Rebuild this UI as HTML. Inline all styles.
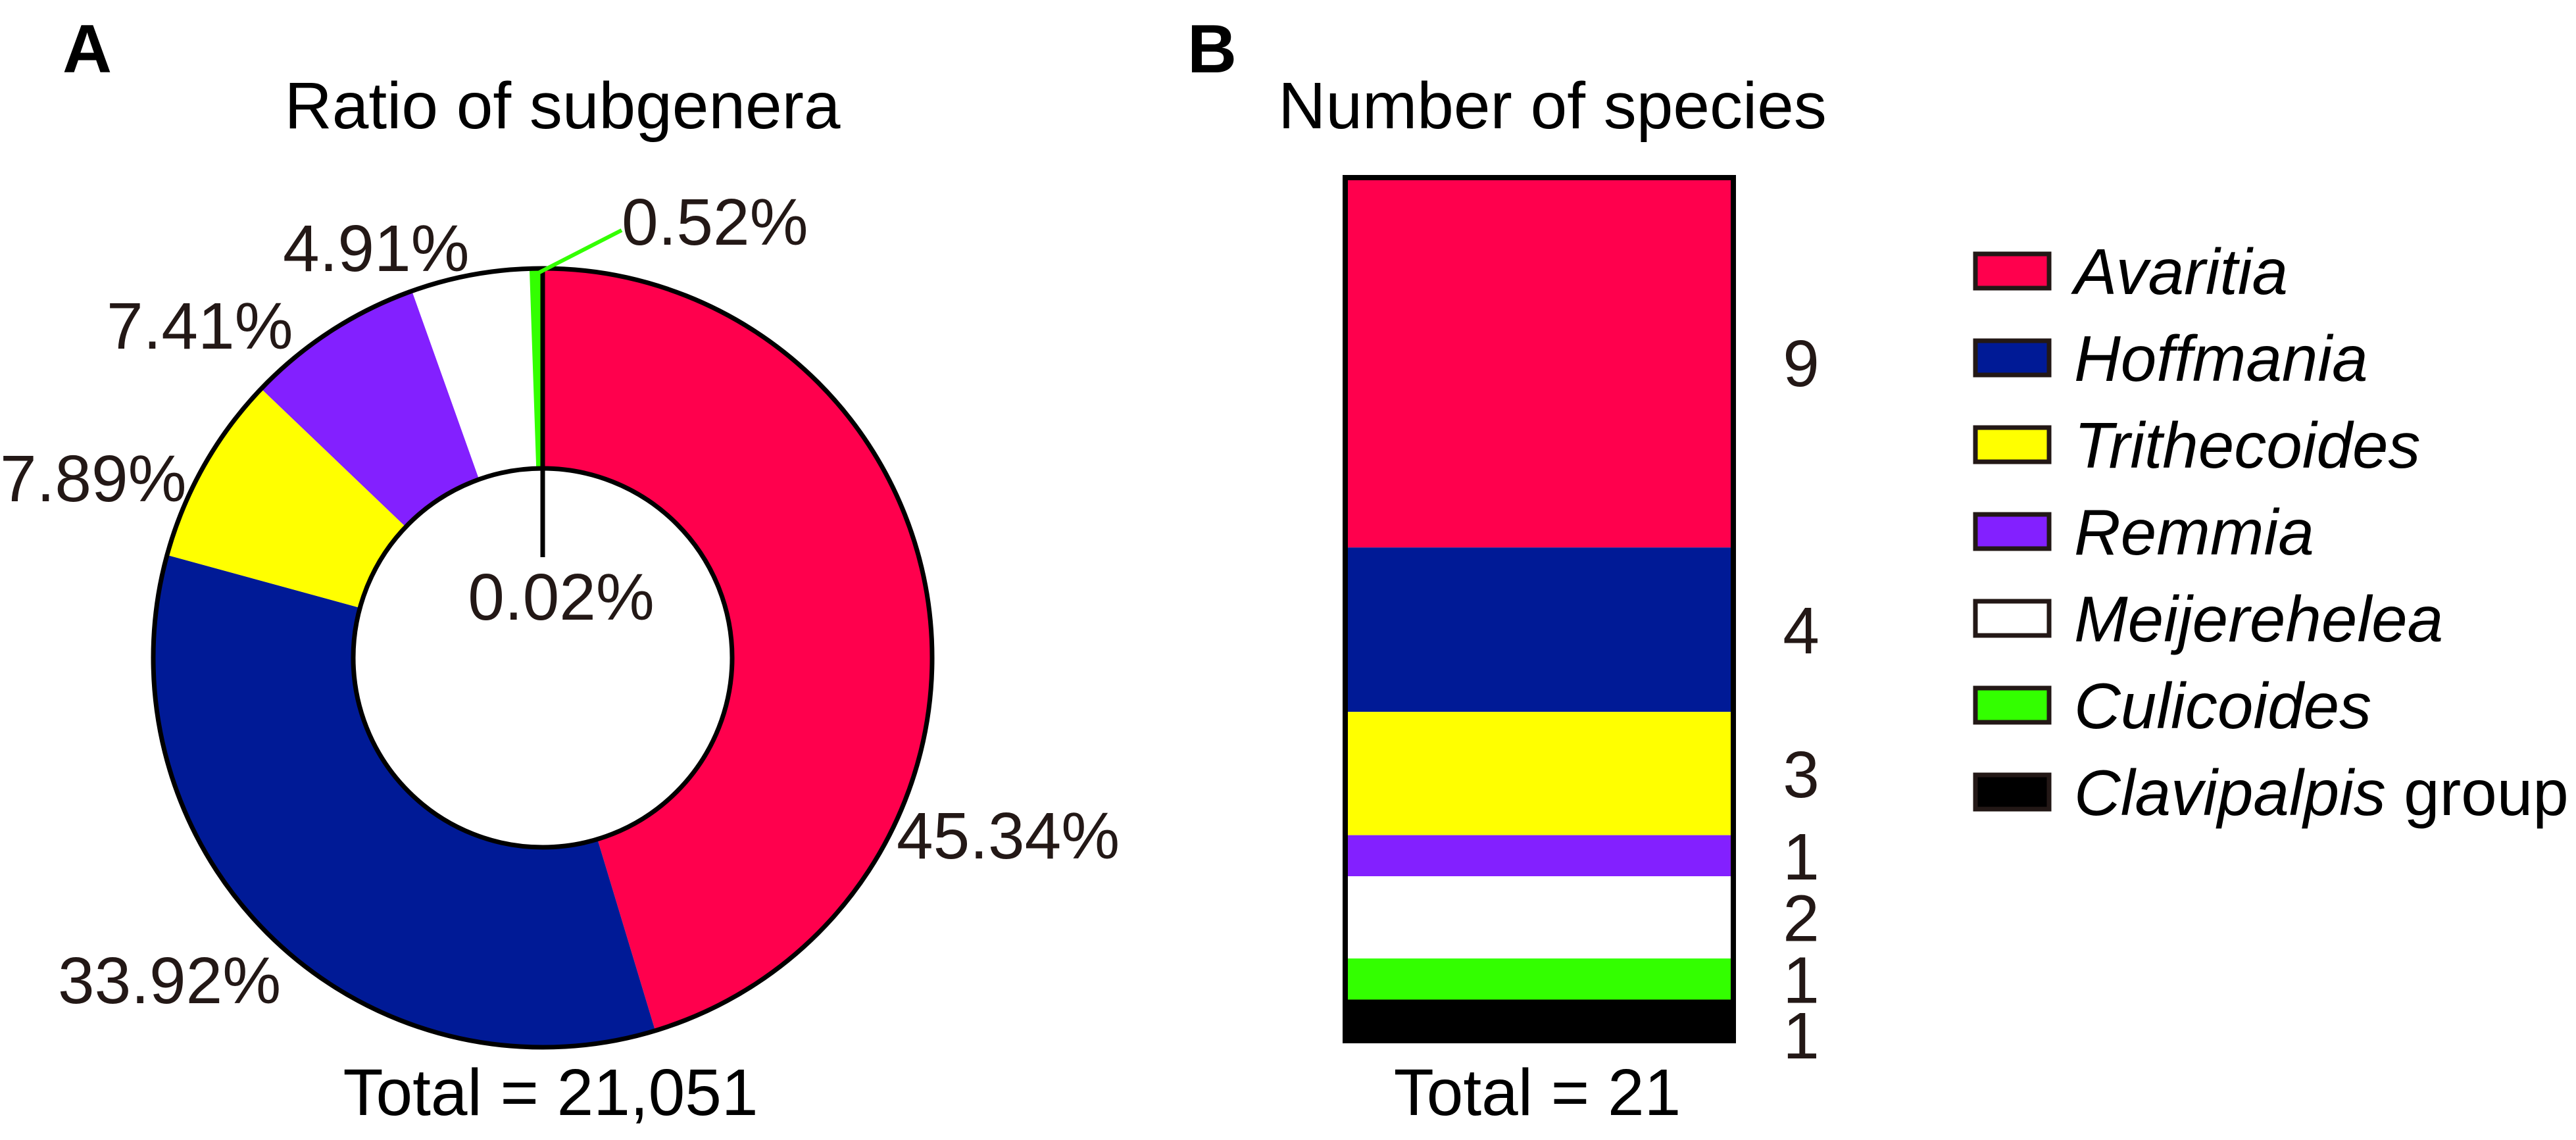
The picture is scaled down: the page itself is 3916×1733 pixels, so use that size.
<!DOCTYPE html>
<html><head><meta charset="utf-8"><style>
html,body{margin:0;padding:0;background:#fff;}
svg{display:block;font-family:"Liberation Sans",Arial,sans-serif;}
</style></head><body>
<svg id="fig" width="3916" height="1733" viewBox="0 0 3916 1733" xmlns="http://www.w3.org/2000/svg">
<text x="95" y="110" font-size="104" font-weight="bold" fill="#000">A</text>
<text x="855" y="195" font-size="100" text-anchor="middle" fill="#000">Ratio of subgenera</text>
<g id="donut"></g>
<text x="837" y="1695" font-size="100" text-anchor="middle" fill="#000">Total = 21,051</text>

<text x="1805" y="110" font-size="104" font-weight="bold" fill="#000">B</text>
<text x="2360" y="195" font-size="100" text-anchor="middle" fill="#000">Number of species</text>
<g id="bar"></g>
<text x="2337" y="1695" font-size="100" text-anchor="middle" fill="#000">Total = 21</text>
<g id="legend"></g>
</svg>
<script>
const categories = ["Avaritia","Hoffmania","Trithecoides","Remmia","Meijerehelea","Culicoides","Clavipalpis"];
const colors = ["#ff004d","#001a96","#ffff00","#8320ff","#ffffff","#33ff00","#000000"];
const percents = [45.34,33.92,7.89,7.41,4.91,0.52,0.02];
const percentLabels = ["45.34%","33.92%","7.89%","7.41%","4.91%","0.52%","0.02%"];
const speciesCounts = [9,4,3,1,2,1,1];

const NS="http://www.w3.org/2000/svg";
function mk(tag,attrs,parent){const e=document.createElementNS(NS,tag);for(const k in attrs)e.setAttribute(k,attrs[k]);parent.appendChild(e);return e;}

// Donut
const cx=825, cy=1000, R=592, r=288;
const donut=document.getElementById('donut');
const total=percents.reduce((a,b)=>a+b,0);
function pt(rad,frac){const a=frac*2*Math.PI;return [cx+rad*Math.sin(a), cy-rad*Math.cos(a)];}
let acc=0;
percents.forEach((p,i)=>{
  const f0=acc/total, f1=(acc+p)/total; acc+=p;
  const [x0,y0]=pt(R,f0),[x1,y1]=pt(R,f1),[x2,y2]=pt(r,f1),[x3,y3]=pt(r,f0);
  const large=(f1-f0)>0.5?1:0;
  const path=mk('path',{d:`M${x0},${y0} A${R},${R} 0 ${large} 1 ${x1},${y1} L${x2},${y2} A${r},${r} 0 ${large} 0 ${x3},${y3} Z`,fill:colors[i],stroke:'none'},donut);
  
  
});
const oc=mk('circle',{cx:cx,cy:cy,r:R,fill:'none',stroke:'#000','stroke-width':7},donut);


const ic=mk('circle',{cx:cx,cy:cy,r:r,fill:'#fff',stroke:'#000','stroke-width':7},donut);


const bl=mk('line',{x1:cx,y1:cy-R,x2:cx,y2:cy-r+135,stroke:'#000','stroke-width':7},donut);


const gl=mk('line',{x1:cx-5,y1:cy-R+6,x2:945,y2:350,stroke:'#33ff00','stroke-width':6},donut);


const labelPos=[[1363,1305,'start'],[88,1525,'start'],[0,762,'start'],[162,530,'start'],[430,412,'start'],[945,372,'start'],[853,942,'middle']];
percentLabels.forEach((t,i)=>{
  const e=mk('text',{x:labelPos[i][0],y:labelPos[i][1],'font-size':100,fill:'#231816','text-anchor':labelPos[i][2]},donut);
  e.textContent=t;
  
  
});

// Stacked bar
const bar=document.getElementById('bar');
const bx=2045, bw=590, btop=270, bbot=1582;
const sum=speciesCounts.reduce((a,b)=>a+b,0);
const unit=(bbot-btop)/sum;
let y=btop;
speciesCounts.forEach((c,i)=>{
  const h=c*unit;
  const rc=mk('rect',{x:bx,y:y,width:bw,height:h,fill:colors[i]},bar);
  
  
  let ly=y+h/2+36; if(i===speciesCounts.length-1) ly+=22;
  const t=mk('text',{x:2738,y:ly,'font-size':100,fill:'#231816','text-anchor':'middle'},bar);
  t.textContent=String(c);
  
  
  y+=h;
});
const br=mk('rect',{x:bx,y:btop,width:bw,height:bbot-btop,fill:'none',stroke:'#000','stroke-width':8},bar);



// Legend
const lg=document.getElementById('legend');
categories.forEach((c,i)=>{
  const yc=412+i*132;
  const g=mk('g',{},lg);
  
  
  const sw=mk('rect',{x:3003,y:yc-26,width:112,height:52,fill:colors[i],stroke:'#231816','stroke-width':7},g);
  
  
  const t=mk('text',{x:3153,y:yc+35,'font-size':98,fill:'#000'},g);
  const it=mk('tspan',{'font-style':'italic'},t); it.textContent=c;
  if(i===categories.length-1){const s=mk('tspan',{},t); s.textContent=' group';}
  
  
});
</script>
</body></html>
